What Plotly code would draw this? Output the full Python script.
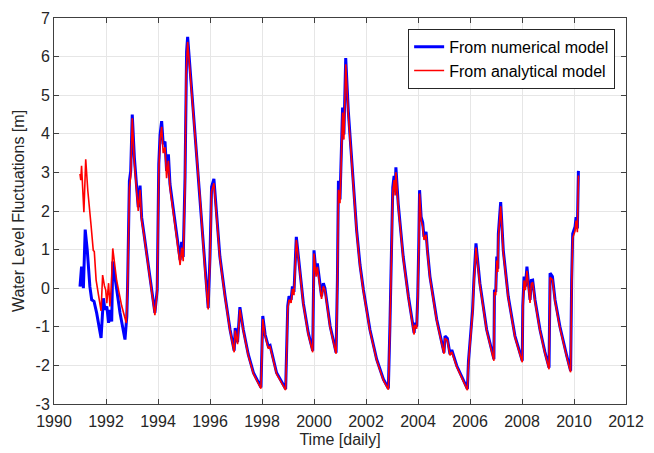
import plotly.graph_objects as go

# ---- Data (decimal years, metres) ----
num_years = [
    1991.00, 1991.06, 1991.13, 1991.20, 1991.28, 1991.38, 1991.45, 1991.54, 1991.64, 1991.81,
    1991.90, 1991.96, 1992.03, 1992.10, 1992.15, 1992.22, 1992.26, 1992.41, 1992.54, 1992.73,
    1992.80, 1992.83, 1992.90, 1992.95, 1993.01, 1993.09, 1993.18, 1993.24, 1993.31, 1993.37,
    1993.46, 1993.69, 1993.88, 1993.97, 1994.03, 1994.08, 1994.14, 1994.20, 1994.27, 1994.33,
    1994.40, 1994.46, 1994.59, 1994.72, 1994.85, 1994.91, 1994.97, 1995.04, 1995.08, 1995.10,
    1995.14, 1995.36, 1995.62, 1995.81, 1995.93, 1996.00, 1996.06, 1996.15, 1996.26, 1996.38,
    1996.58, 1996.77, 1996.93, 1996.97, 1997.06, 1997.15, 1997.28, 1997.47, 1997.67, 1997.96,
    1998.03, 1998.12, 1998.24, 1998.31, 1998.56, 1998.91, 1998.99, 1999.04, 1999.12, 1999.17,
    1999.23, 1999.32, 1999.40, 1999.59, 1999.78, 1999.95, 2000.00, 2000.08, 2000.13, 2000.29,
    2000.36, 2000.42, 2000.62, 2000.85, 2000.90, 2000.94, 2001.00, 2001.06, 2001.10, 2001.15,
    2001.22, 2001.32, 2001.45, 2001.64, 2001.77, 2001.90, 2002.15, 2002.41, 2002.67, 2002.86,
    2002.92, 2002.99, 2003.03, 2003.08, 2003.12, 2003.15, 2003.24, 2003.43, 2003.63, 2003.85,
    2003.88, 2003.95, 2003.99, 2004.03, 2004.06, 2004.12, 2004.18, 2004.23, 2004.31, 2004.36,
    2004.46, 2004.72, 2005.00, 2005.04, 2005.13, 2005.23, 2005.30, 2005.49, 2005.74, 2005.90,
    2005.94, 2006.03, 2006.10, 2006.15, 2006.23, 2006.38, 2006.64, 2006.92, 2006.94, 2006.99,
    2007.03, 2007.07, 2007.09, 2007.18, 2007.28, 2007.47, 2007.73, 2008.01, 2008.03, 2008.08,
    2008.13, 2008.19, 2008.24, 2008.31, 2008.36, 2008.41, 2008.50, 2008.69, 2008.88, 2009.04,
    2009.08, 2009.17, 2009.27, 2009.46, 2009.72, 2009.87, 2009.91, 2009.95, 2010.04, 2010.08,
    2010.13, 2010.17,
]
num_level = [
    0.04, 0.56, 0.00, 1.52, 0.98, 0.04, -0.30, -0.34, -0.64, -1.29,
    -0.26, -0.56, -0.47, -0.90, -0.56, -0.86, 0.69, -0.04, -0.64, -1.33,
    -0.73, 0.04, 2.78, 3.03, 4.50, 3.39, 2.66, 2.10, 2.66, 1.84,
    1.41, 0.21, -0.64, -0.04, 3.21, 3.98, 4.33, 3.73, 3.80, 3.04,
    3.47, 2.70, 2.01, 1.33, 0.73, 1.20, 0.81, 2.88, 5.70, 6.13,
    6.51, 4.58, 2.36, 0.47, -0.51, 0.82, 2.62, 2.83, 1.85, 0.82,
    -0.21, -1.07, -1.62, -1.03, -1.40, -0.49, -1.07, -1.71, -2.19, -2.57,
    -0.72, -1.20, -1.50, -1.48, -2.19, -2.61, -0.46, -0.21, -0.30, 0.05,
    -0.10, 1.33, 0.82, -0.39, -1.16, -1.62, 0.98, 0.39, 0.64, -0.21,
    0.13, 0.00, -0.98, -1.67, 0.20, 2.78, 2.30, 3.73, 4.68, 3.98,
    5.96, 4.58, 3.30, 1.50, 0.60, -0.04, -1.07, -1.84, -2.36, -2.60,
    -0.98, 1.88, 2.61, 2.91, 2.50, 3.13, 2.18, 0.82, -0.21, -1.16,
    -0.90, -1.00, -0.21, 1.16, 2.54, 1.85, 1.70, 1.33, 1.46, 1.00,
    0.30, -0.81, -1.67, -1.24, -1.30, -1.71, -1.60, -2.01, -2.40, -2.61,
    -1.90, -1.24, -0.56, 0.21, 1.16, 0.13, -1.07, -1.84, -0.04, -0.10,
    0.82, 0.50, 1.41, 2.23, 0.98, -0.21, -1.24, -1.88, -0.46, 0.30,
    0.04, 0.56, 0.20, -0.30, 0.20, 0.21, -0.30, -1.07, -1.65, -2.06,
    0.39, 0.30, -0.30, -1.00, -1.75, -2.14, 0.21, 1.41, 1.59, 1.84,
    1.55, 3.04,
]

ana_years = [
    1991.00, 1991.03, 1991.06, 1991.15, 1991.22, 1991.30, 1991.42, 1991.51, 1991.55, 1991.62,
    1991.81, 1991.87, 1991.94, 1991.99, 1992.03, 1992.10, 1992.15, 1992.20, 1992.26, 1992.41,
    1992.60, 1992.78, 1992.83, 1992.90, 1992.95, 1993.01,
    1993.09, 1993.18, 1993.24, 1993.31, 1993.37,
    1993.46, 1993.69, 1993.88, 1993.97, 1994.03, 1994.08, 1994.14, 1994.20, 1994.27, 1994.33,
    1994.40, 1994.46, 1994.59, 1994.72, 1994.85, 1994.91, 1994.97, 1995.04, 1995.08, 1995.10,
    1995.14, 1995.36, 1995.62, 1995.81, 1995.93, 1996.00, 1996.06, 1996.15, 1996.26, 1996.38,
    1996.58, 1996.77, 1996.93, 1996.97, 1997.06, 1997.15, 1997.28, 1997.47, 1997.67, 1997.96,
    1998.03, 1998.12, 1998.24, 1998.31, 1998.56, 1998.91, 1998.99, 1999.04, 1999.12, 1999.17,
    1999.23, 1999.32, 1999.40, 1999.59, 1999.78, 1999.95, 2000.00, 2000.08, 2000.13, 2000.29,
    2000.36, 2000.42, 2000.62, 2000.85, 2000.90, 2000.94, 2001.00, 2001.06, 2001.10, 2001.15,
    2001.22, 2001.32, 2001.45, 2001.64, 2001.77, 2001.90, 2002.15, 2002.41, 2002.67, 2002.86,
    2002.92, 2002.99, 2003.03, 2003.08, 2003.12, 2003.15, 2003.24, 2003.43, 2003.63, 2003.85,
    2003.88, 2003.95, 2003.99, 2004.03, 2004.06, 2004.12, 2004.18, 2004.23, 2004.31, 2004.36,
    2004.46, 2004.72, 2005.00, 2005.04, 2005.13, 2005.23, 2005.30, 2005.49, 2005.74, 2005.90,
    2005.94, 2006.03, 2006.10, 2006.15, 2006.23, 2006.38, 2006.64, 2006.92, 2006.94, 2006.99,
    2007.03, 2007.07, 2007.09, 2007.18, 2007.28, 2007.47, 2007.73, 2008.01, 2008.03, 2008.08,
    2008.13, 2008.19, 2008.24, 2008.31, 2008.36, 2008.41, 2008.50, 2008.69, 2008.88, 2009.04,
    2009.08, 2009.17, 2009.27, 2009.46, 2009.72, 2009.87, 2009.91, 2009.95, 2010.04, 2010.08,
    2010.13, 2010.17,
]
ana_level = [
    2.96, 2.80, 3.17, 1.97, 3.34, 2.53, 1.67, 0.98, 0.95, 0.21,
    -0.59, 0.34, 0.06, -0.05, -0.39, 0.13, -0.47, 0.00, 1.03, 0.20,
    -0.45, -0.90, 0.00, 2.60, 2.90, 4.40,
    3.25, 2.55, 2.00, 2.55, 1.75,
    1.38, 0.18, -0.70, -0.10, 3.05, 3.85, 4.18, 3.50, 3.65, 2.85,
    3.30, 2.60, 1.98, 1.30, 0.60, 1.05, 0.70, 2.70, 5.55, 5.95,
    6.38, 4.50, 2.30, 0.42, -0.55, 0.70, 2.50, 2.72, 1.80, 0.78,
    -0.25, -1.10, -1.66, -1.10, -1.45, -0.55, -1.10, -1.74, -2.22, -2.60,
    -0.80, -1.25, -1.55, -1.52, -2.22, -2.64, -0.55, -0.30, -0.38, -0.02,
    -0.18, 1.25, 0.78, -0.42, -1.20, -1.66, 0.90, 0.30, 0.55, -0.28,
    0.05, -0.05, -1.02, -1.70, 0.10, 2.55, 2.20, 3.60, 4.55, 3.85,
    5.80, 4.50, 3.25, 1.45, 0.55, -0.08, -1.10, -1.87, -2.39, -2.63,
    -1.05, 1.75, 2.50, 2.80, 2.40, 3.00, 2.12, 0.78, -0.25, -1.20,
    -0.95, -1.05, -0.28, 1.05, 2.45, 1.75, 1.60, 1.25, 1.38, 0.95,
    0.26, -0.85, -1.70, -1.30, -1.35, -1.74, -1.65, -2.04, -2.43, -2.64,
    -1.95, -1.30, -0.62, 0.12, 1.05, 0.08, -1.10, -1.88, -0.10, -0.18,
    0.72, 0.42, 1.30, 2.12, 0.92, -0.25, -1.27, -1.92, -0.55, 0.20,
    -0.05, 0.45, 0.12, -0.38, 0.12, 0.15, -0.35, -1.10, -1.68, -2.10,
    0.28, 0.22, -0.35, -1.04, -1.78, -2.18, 0.10, 1.30, 1.48, 1.75,
    1.45, 2.92,
]

x_ticks = list(range(1990, 2013, 2))
y_ticks = list(range(-3, 8))

FONT = "Liberation Sans, Arial, Helvetica, sans-serif"
TXT = "#262626"
FS = 16

fig = go.Figure()
fig.add_trace(go.Scatter(
    x=num_years, y=num_level, mode="lines", name="From numerical model",
    line=dict(color="#0000FF", width=3),
))
fig.add_trace(go.Scatter(
    x=ana_years, y=ana_level, mode="lines", name="From analytical model",
    line=dict(color="#FF0000", width=1.6),
))

axis_common = dict(
    automargin=False,
    showgrid=True, gridcolor="#e6e6e6", gridwidth=1,
    showline=True, linecolor="#404040", linewidth=1, mirror="allticks",
    ticks="inside", ticklen=5, tickcolor="#404040",
    ticklabeloverflow="allow",
    zeroline=False, tickfont=dict(family=FONT, size=FS, color=TXT),
)

# the page body has an 8px default margin, so the figure is sized to fit inside it
fig.update_layout(
    width=646, height=445,
    margin=dict(l=46, r=28, t=10, b=49),
    paper_bgcolor="white", plot_bgcolor="white",
    font=dict(family=FONT, size=FS, color=TXT),
    xaxis=dict(range=[1990, 2012], tickvals=x_ticks, ticktext=[str(v) for v in x_ticks],
               ticklabelstandoff=3,
               title=dict(text="Time [daily]", font=dict(family=FONT, size=FS, color=TXT), standoff=4),
               **axis_common),
    yaxis=dict(range=[-3, 7], tickvals=y_ticks, ticktext=[str(v) for v in y_ticks],
               title=dict(text="Water Level Fluctuations [m]", font=dict(family=FONT, size=FS, color=TXT), standoff=6),
               **axis_common),
    legend=dict(x=0.981, xanchor="right", y=0.972, yanchor="top",
                bgcolor="white", bordercolor="#262626", borderwidth=1,
                font=dict(family=FONT, size=FS, color="black"),
                tracegroupgap=0),
    showlegend=True,
)

fig.write_html("out.html")
